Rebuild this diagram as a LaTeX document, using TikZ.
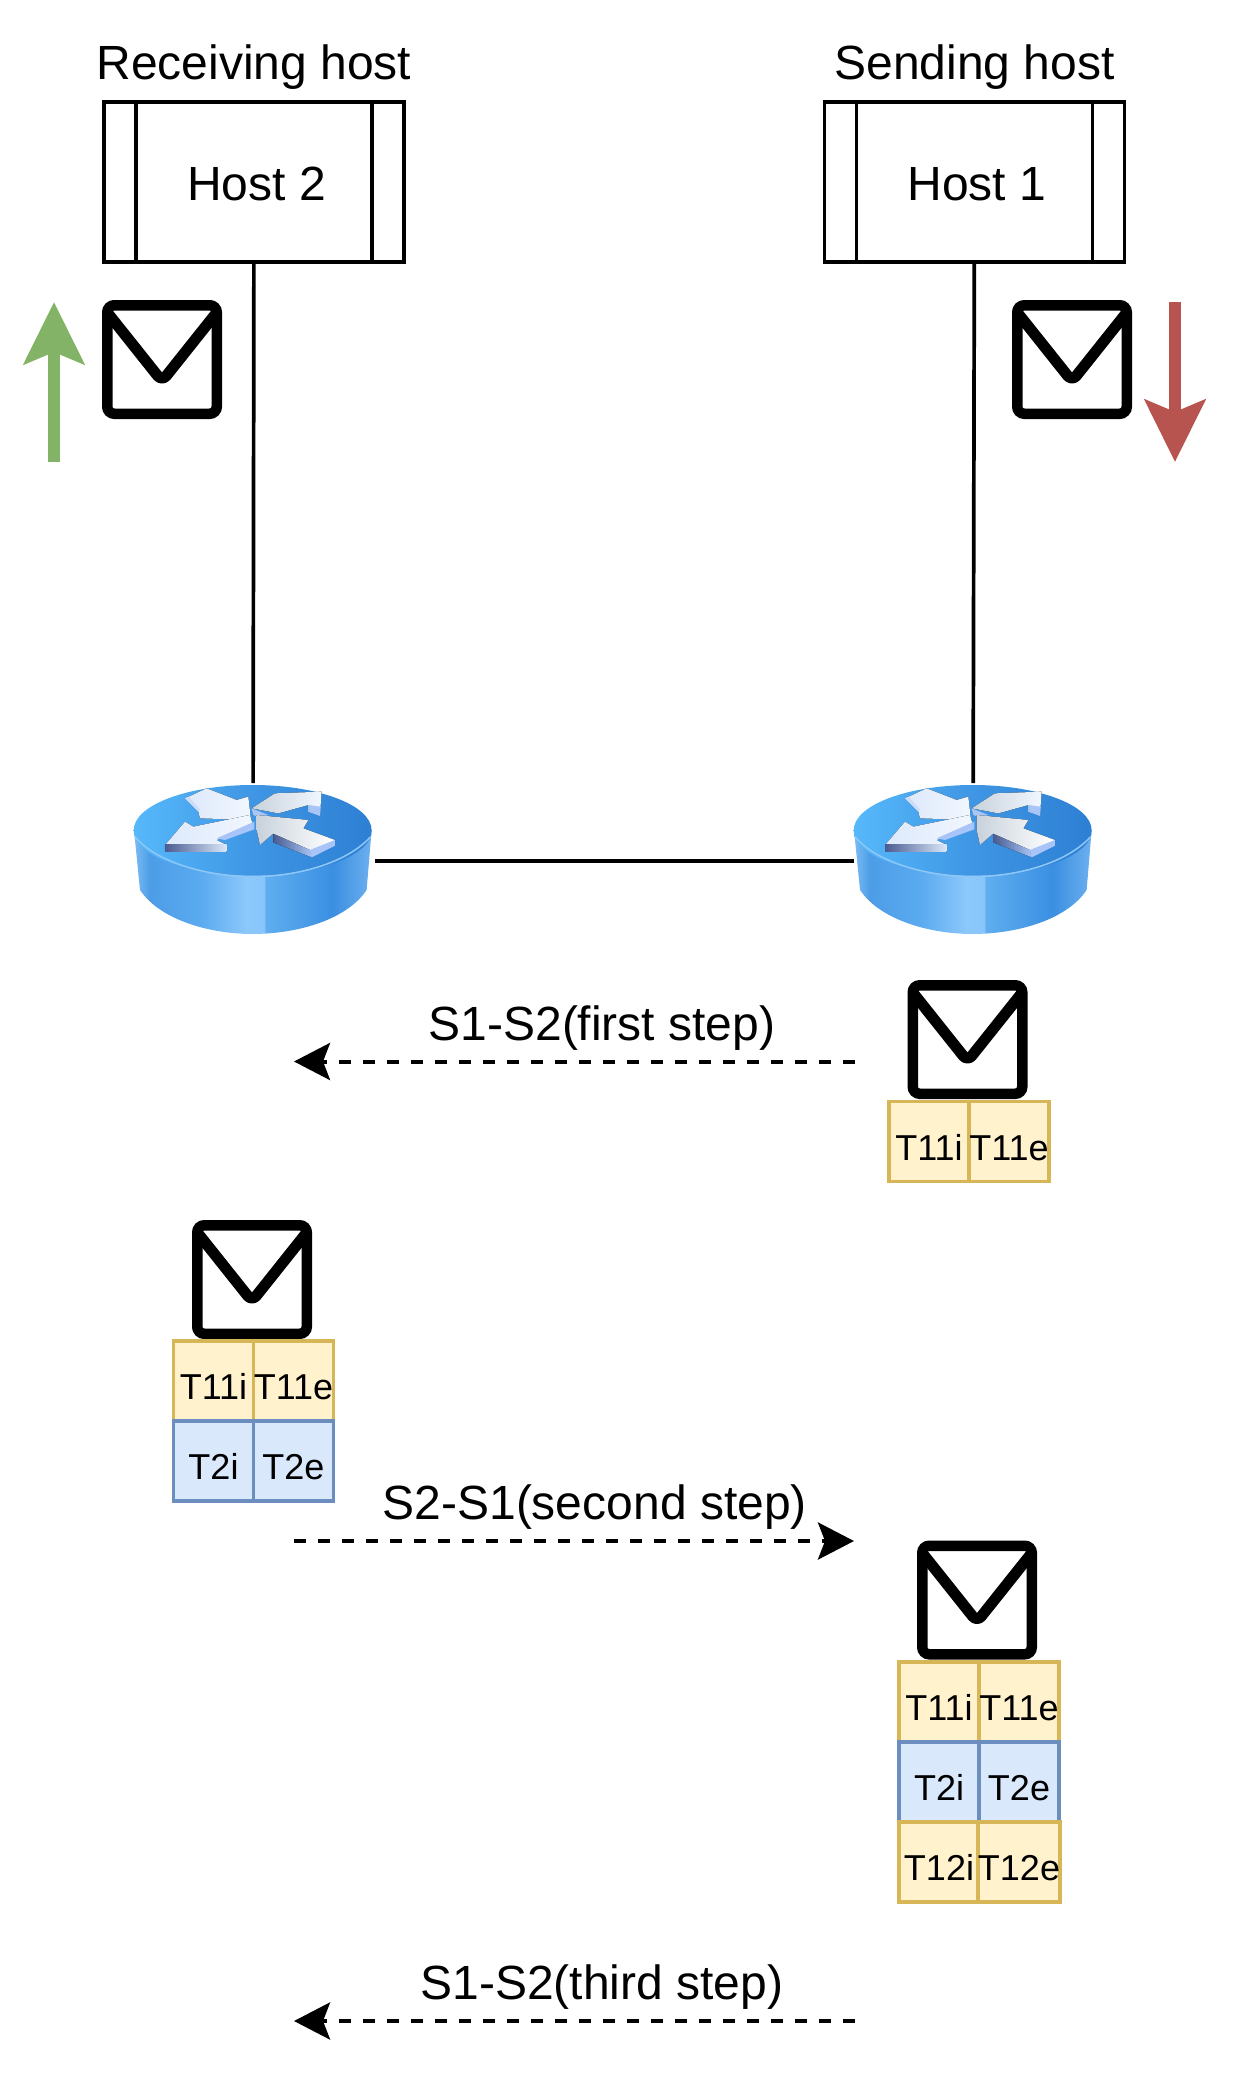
\documentclass[tikz,border=0pt]{standalone}
\usepackage{fontspec}
\setmainfont{Liberation Sans}
\usetikzlibrary{arrows.meta, positioning}

\definecolor{cellyellow}{HTML}{FFF2CC}
\definecolor{edgeyellow}{HTML}{D6B656}
\definecolor{cellblue}{HTML}{DAE8FC}
\definecolor{edgeblue}{HTML}{6C8EBF}
\definecolor{upgreen}{HTML}{82B366}
\definecolor{downred}{HTML}{B85450}
\definecolor{rbA}{HTML}{7BBCF5}
\definecolor{rbB}{HTML}{4C9DE6}
\definecolor{rbC}{HTML}{5AAAF0}
\definecolor{rbD}{HTML}{8CC8FB}
\definecolor{rbE}{HTML}{88C5FA}
\definecolor{rbF}{HTML}{60AEEF}
\definecolor{rbG}{HTML}{3A8FE2}
\definecolor{rbH}{HTML}{6DB0EF}
\definecolor{rtA}{HTML}{56B9FB}
\definecolor{rtB}{HTML}{3F96E4}
\definecolor{rtC}{HTML}{2D7FD3}
\definecolor{rimblue}{HTML}{8FC7F7}
\definecolor{arrowpale}{HTML}{DCE8FB}
\definecolor{arrowlight}{HTML}{F2F7FE}
\definecolor{arrowgrey}{HTML}{C8D2DC}
\definecolor{arrowside}{HTML}{A8C4F8}
\definecolor{arrowdark}{HTML}{4A5C90}

% router body, light bands across the drum
\pgfdeclarehorizontalshading{routerbody}{100bp}{
    color(0bp)=(rbA); color(25bp)=(rbA); color(28.4bp)=(rbB);
    color(38.9bp)=(rbC); color(48.7bp)=(rbD); color(52.5bp)=(rbE);
    color(52.6bp)=(rbF); color(66.9bp)=(rbG); color(75bp)=(rbH);
    color(100bp)=(rbH)}
\pgfdeclarehorizontalshading{routertop}{100bp}{
    color(0bp)=(rtA); color(25bp)=(rtA); color(50bp)=(rtB);
    color(75bp)=(rtC); color(100bp)=(rtC)}

\tikzset{
    pics/router/.style = {code = {
        \begin{scope}[xshift=-153pt, yshift=109pt, x=0.3333pt, y=-0.3333pt]
            % --- Drum ---
            \shade[shading=routerbody] (102,240) -- (120,420)
                .. controls (180,510) and (330,552) .. (458,552)
                .. controls (590,552) and (740,510) .. (800,420) -- (815,240) -- cycle;
            \shade[shading=routertop] (458,241) ellipse [x radius=357, y radius=136];
            \draw[line width=1.5pt, color=rimblue] (105,260)
                .. controls (170,340) and (330,380) .. (458,380)
                .. controls (590,380) and (740,340) .. (812,260);
            % --- Arrows on the lid ---
            \fill[left color=arrowpale, right color=arrowlight] (255,145) -- (320,115) -- (410,150)
                -- (445,140) -- (453,210) -- (300,205) -- (295,185) -- cycle;
            \fill[arrowside!60!white] (255,145) -- (295,185) -- (300,178) -- (265,140) -- cycle;
            \fill[left color=arrowpale, right color=arrowlight] (460,230) -- (350,270) -- (380,285)
                -- (195,285) -- (255,215) -- (280,230) -- (450,195) -- cycle;
            \fill[arrowside] (463,215) -- (463,238) -- (375,270) -- (350,265) -- cycle;
            \fill[left color=arrowdark, right color=arrowpale] (195,285) -- (380,285) -- (380,305) -- (195,305) -- cycle;
            \fill[left color=arrowgrey, right color=arrowlight] (455,175) -- (525,130) -- (665,125)
                -- (660,195) -- (625,185) -- (625,165) -- (535,190) -- cycle;
            \fill[arrowside] (455,175) -- (505,195) -- (480,202) -- (460,195) -- cycle;
            \fill[arrowside] (625,165) -- (662,170) -- (660,198) -- (625,185) -- cycle;
            \fill[left color=arrowgrey, right color=white] (470,195) -- (625,210) -- (610,235)
                -- (705,270) -- (705,285) -- (635,320) -- (520,275) -- (520,250) -- (480,285) -- (470,240) -- cycle;
            \fill[left color=arrowdark, right color=arrowside] (520,252) -- (535,258) -- (630,300) -- (635,322) -- (520,277) -- cycle;
            \fill[arrowside] (630,300) -- (705,270) -- (705,287) -- (635,322) -- cycle;
        \end{scope}
    }}
}

\begin{document}
\begin{tikzpicture}[
    x=1pt, y=-1pt,
    % --- Node styles ---
    host/.style = {rectangle, draw=black, line width=3.7pt, minimum width=300pt,
        minimum height=160pt, inner sep=0pt, outer sep=0pt, text height=37pt, text depth=0pt,
        font=\fontsize{48}{50}\selectfont,
        path picture={
            \draw[line width=3.7pt] ([xshift=32pt]path picture bounding box.north west) -- ([xshift=32pt]path picture bounding box.south west);
            \draw[line width=3.7pt] ([xshift=-32pt]path picture bounding box.north east) -- ([xshift=-32pt]path picture bounding box.south east);
        }},
    caption/.style = {inner sep=0pt, outer sep=0pt, font=\fontsize{48}{50}\selectfont},
    routerbox/.style = {rectangle, minimum width=240pt, minimum height=152pt, inner sep=0pt, outer sep=2pt},
    mail/.style = {rectangle, draw=black, line width=10.5pt, rounded corners=7pt, minimum width=109.5pt,
        minimum height=108.5pt, inner sep=0pt, outer sep=0pt,
        path picture={
            \draw[line width=11pt, line join=round] ([shift={(-1pt,-6pt)}]path picture bounding box.north west)
                -- ([shift={(54.75pt,-76pt)}]path picture bounding box.north west)
                -- ([shift={(110.5pt,-6pt)}]path picture bounding box.north west);
        }},
    tag/.style = {rectangle, line width=3.7pt, minimum width=80pt, minimum height=80pt, inner sep=0pt,
        outer sep=0pt, text height=37pt, text depth=0pt, font=\fontsize{36}{38}\selectfont},
    tagyellow/.style = {tag, draw=edgeyellow, fill=cellyellow},
    tagblue/.style = {tag, draw=edgeblue, fill=cellblue},
    % --- Arrow styles ---
    link/.style = {line width=3.7pt, draw=black},
    step arrow/.style = {line width=4pt, dash pattern=on 12pt off 12pt, draw=black,
        -{Stealth[length=36pt, width=37pt, inset=7pt]}},
    block/.style = {line width=12pt, -{Stealth[length=62pt, width=60pt, inset=12pt]}}
]
\useasboundingbox (0,0) rectangle (1232,2076);

% ==================== HOSTS ====================
\node[host] (host2) at (254,182) {\hspace*{5pt}Host 2};
\node[host] (host1) at (974.5,182) {\hspace*{5pt}Host 1};
\node[caption, above=13pt of host2] (recv) {Receiving host};
\node[caption, above=13pt of host1] (send) {Sending host};

% ==================== ROUTERS ====================
\node[routerbox] (rt2) at (253,861) {};
\node[routerbox] (rt1) at (973,861) {};
\pic at ([yshift=2pt]rt2) {router};
\pic at ([yshift=2pt]rt1) {router};

\draw[link] (host2) -- (rt2);
\draw[link] (host1) -- (rt1);
\draw[link, shorten >=-3pt] (rt2) -- (rt1);

% ==================== DIRECTION ====================
\node[mail] (mailrecv) at (162,359.5) {};
\node[mail] (mailsend) at (1072,359.5) {};

\coordinate (upa) at (54,462);
\coordinate (upb) at (54,302);
\coordinate (downa) at (1175,302);
\coordinate (downb) at (1175,462);
\draw[block, upgreen] (upa) -- (upb);
\draw[block, downred] (downa) -- (downb);

% ==================== FIRST STEP ====================
\node[mail] (mail1) at (967.5,1039.5) {};
\node[tagyellow] (a11i) at (929,1141.5) {T11i};
\node[tagyellow, right=0pt of a11i] (a11e) {T11e};

\coordinate (s1a) at (855,1061.5);
\coordinate (s1b) at (294,1061.5);
\draw[step arrow] (s1a) -- node[pos=0.451, above=11.5pt, caption] (s1label) {S1-S2(first step)} (s1b);

% ==================== SECOND STEP ====================
\node[mail] (mail2) at (252,1279.5) {};
\node[tagyellow] (b11i) at (213.5,1381) {T11i};
\node[tagyellow, right=0pt of b11i] (b11e) {T11e};
\node[tagblue, below=0pt of b11i] (b2i) {T2i};
\node[tagblue, below=0pt of b11e] (b2e) {T2e};

\coordinate (s2a) at (294,1541);
\coordinate (s2b) at (854,1541);
\draw[step arrow] (s2a) -- node[pos=0.537, above=11.5pt, caption] (s2label) {S2-S1(second step)} (s2b);

% ==================== THIRD STEP ====================
\node[mail] (mail3) at (977,1600) {};
\node[tagyellow] (c11i) at (939,1702) {T11i};
\node[tagyellow, right=0pt of c11i] (c11e) {T11e};
\node[tagblue, below=0pt of c11i] (c2i) {T2i};
\node[tagblue, below=0pt of c11e] (c2e) {T2e};
\node[tagyellow, below=0pt of c2i] (c12i) {T12i};
\node[tagyellow, below=0pt of c2e] (c12e) {T12e};

\coordinate (s3a) at (855,2021);
\coordinate (s3b) at (294,2021);
\draw[step arrow] (s3a) -- node[pos=0.451, above=11.5pt, caption] (s3label) {S1-S2(third step)} (s3b);

\end{tikzpicture}
\end{document}
